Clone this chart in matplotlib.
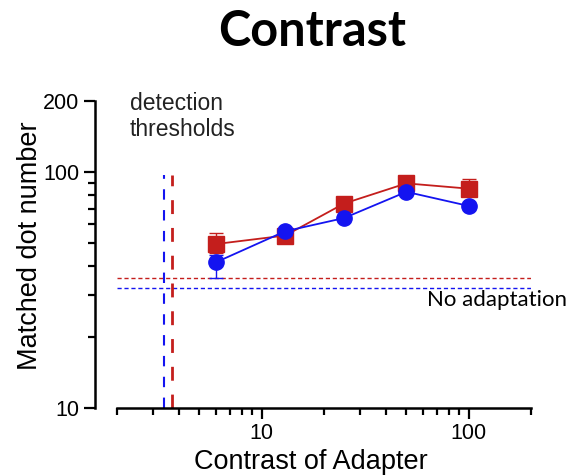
import numpy as np
import matplotlib.pyplot as plt

# adapter contrast (%) and matched dot number for the two conditions
contrast = [6, 13, 25, 50, 100]
red_match = [49.5, 53.8, 73.5, 89.5, 85.0]
red_err_lo = [4.0, 3.5, 2.5, 2.5, 3.0]
red_err_hi = [5.5, 2.0, 2.5, 2.5, 8.0]
blue_match = [41.4, 56.1, 63.8, 82.4, 71.8]
blue_err_lo = [6.0, 2.0, 2.0, 2.0, 2.0]
blue_err_hi = [3.0, 2.0, 2.0, 2.0, 2.0]

# baselines without adaptation and detection thresholds
red_baseline = 35.7
blue_baseline = 32.4
red_threshold = 3.67
blue_threshold = 3.36

RED = "#c41e1c"
BLUE = "#1414f0"

fig = plt.figure(figsize=(5.67, 4.76), dpi=100)
ax = fig.add_axes([0.2063, 0.1429, 0.7302, 0.645])
ax.set_xscale("log")
ax.set_yscale("log")
ax.set_xlim(2, 200)
ax.set_ylim(10, 200)

# no-adaptation baselines
ax.axhline(red_baseline, color=RED, lw=1.0, ls=(0, (3, 2)), zorder=1)
ax.axhline(blue_baseline, color=BLUE, lw=1.0, ls=(0, (3, 2)), zorder=1)

# detection thresholds
ax.plot([blue_threshold, blue_threshold], [10, 97], color=BLUE, lw=1.5,
        ls=(0, (5, 5)), zorder=1)
ax.plot([red_threshold, red_threshold], [10, 97], color=RED, lw=2.0,
        ls=(0, (5, 5)), zorder=1)

ax.errorbar(contrast, red_match, yerr=[red_err_lo, red_err_hi], color=RED,
            marker="s", ms=11, lw=1.3, capsize=5, elinewidth=1.0, zorder=3)
ax.errorbar(contrast, blue_match, yerr=[blue_err_lo, blue_err_hi], color=BLUE,
            marker="o", ms=11, lw=1.3, capsize=5, elinewidth=1.0, zorder=4)

# Prism-style axes
for side in ["top", "right"]:
    ax.spines[side].set_visible(False)
ax.spines["left"].set_position(("outward", 16))
ax.spines["left"].set_linewidth(1.8)
ax.spines["bottom"].set_linewidth(1.8)

ax.set_yticks([10, 100, 200])
ax.set_yticklabels(["10", "100", "200"])
ax.set_xticks([10, 100])
ax.set_xticklabels(["10", "100"])
ax.tick_params(which="major", length=8, width=1.6, labelsize=15.5, pad=3)
ax.tick_params(which="minor", length=5, width=1.6)
ax.tick_params(axis="y", which="minor", labelleft=False)
ax.tick_params(axis="x", which="minor", labelbottom=False)
for lab in ax.get_xticklabels() + ax.get_yticklabels():
    lab.set_family("Liberation Sans")

ax.set_xlabel("Contrast of Adapter", fontsize=19.5, family="Liberation Sans")
ax.set_ylabel("Matched dot number", fontsize=19.5, family="Liberation Sans")
ax.xaxis.set_label_coords(0.469, -0.134)
ax.yaxis.set_label_coords(-0.179, 0.528)

ax.text(0.031, 1.03, "detection\nthresholds", transform=ax.transAxes,
        fontsize=16.5, family="Liberation Sans", color="#222222",
        va="top", ha="left", linespacing=1.2)
ax.text(0.918, 0.352, "No adaptation", transform=ax.transAxes, fontsize=16,
        family="Lato", ha="center", va="center", clip_on=False)

fig.text(0.55, 0.933, "Contrast", fontsize=35, fontweight="bold",
         family="Lato", ha="center", va="center")

fig.savefig("out.png", dpi=100)
